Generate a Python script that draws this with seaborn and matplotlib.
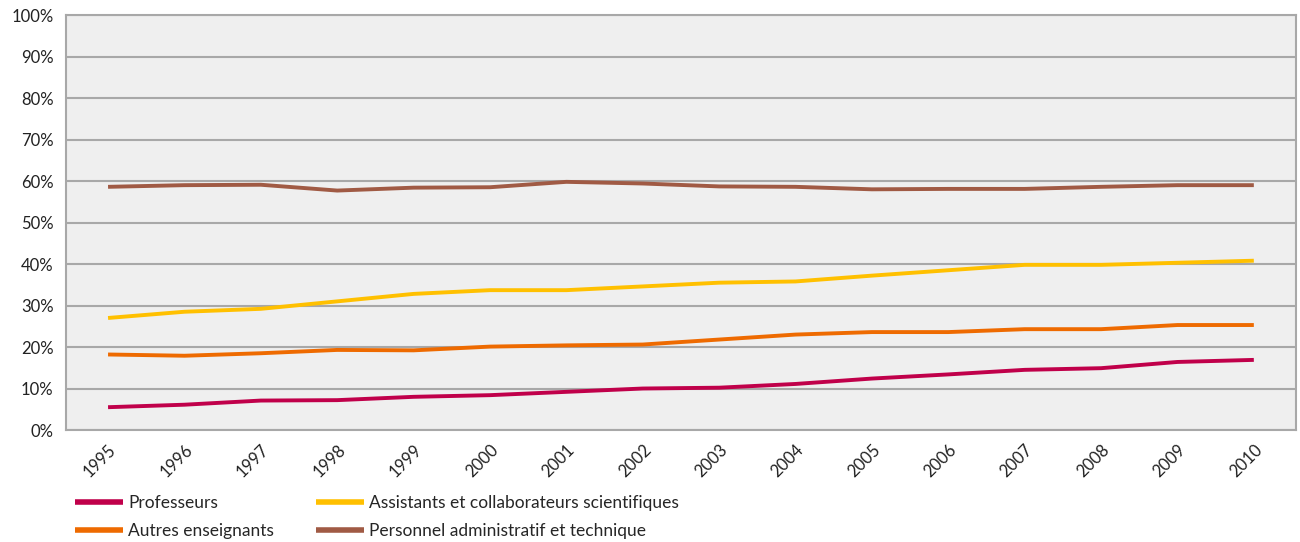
import pandas as pd
import matplotlib
matplotlib.use("Agg")
import matplotlib.pyplot as plt
import seaborn as sns
from matplotlib.ticker import PercentFormatter

# Data (share in %)
years = list(range(1995, 2011))
professeurs = [5.5, 6.1, 7.1, 7.2, 8.0, 8.4, 9.2, 10.0, 10.2, 11.1, 12.4, 13.4, 14.5, 14.9, 16.4, 16.9]
autres_enseignants = [18.2, 17.9, 18.5, 19.3, 19.2, 20.1, 20.4, 20.6, 21.8, 23.0, 23.6, 23.6, 24.3, 24.3, 25.3, 25.3]
assistants = [27.0, 28.5, 29.2, 31.0, 32.8, 33.7, 33.7, 34.6, 35.5, 35.8, 37.2, 38.5, 39.8, 39.8, 40.3, 40.8]
personnel = [58.6, 59.0, 59.1, 57.7, 58.4, 58.5, 59.8, 59.4, 58.7, 58.6, 58.0, 58.1, 58.1, 58.6, 59.0, 59.0]

series_names = [
    "Professeurs",
    "Autres enseignants",
    "Assistants et collaborateurs scientifiques",
    "Personnel administratif et technique",
]
series_values = [professeurs, autres_enseignants, assistants, personnel]
colors = ["#C0004A", "#EE6A00", "#FFC000", "#A05A44"]

rows = []
for name, vals in zip(series_names, series_values):
    for i, (yr, v) in enumerate(zip(years, vals)):
        rows.append({"pos": i, "year": yr, "value": v, "series": name})
df = pd.DataFrame(rows)

sns.set_theme(style="white")
plt.rcParams["font.family"] = ["Lato", "DejaVu Sans"]

fig = plt.figure(figsize=(13, 5.42), dpi=100)
ax = fig.add_axes([0.0508, 0.2066, 0.946, 0.7657])
ax.set_facecolor("#EFEFEF")

sns.lineplot(data=df, x="pos", y="value", hue="series", hue_order=series_names,
             palette=colors, linewidth=2.8, ax=ax, legend=False, zorder=3,
             solid_capstyle="butt")

ax.set_xlim(-0.55, len(years) - 0.45)
ax.set_ylim(0, 100)
ax.set_yticks(range(0, 101, 10))
ax.yaxis.set_major_formatter(PercentFormatter(decimals=0))
ax.set_xticks(range(len(years)))
ax.set_xticklabels([str(y) for y in years], rotation=45, ha="right",
                   rotation_mode="anchor")
ax.tick_params(axis="x", length=0, pad=8, labelsize=12, colors="#222222")
ax.tick_params(axis="y", length=5, width=1.2, color="#999999", pad=4,
               labelsize=12, labelcolor="#222222")
ax.grid(axis="y", color="#A8A8A8", linewidth=1.5, zorder=1)
ax.set_axisbelow(True)
for side in ["left", "bottom", "right", "top"]:
    ax.spines[side].set_color("#A8A8A8")
    ax.spines[side].set_linewidth(1.5)
ax.set_xlabel("")
ax.set_ylabel("")

handles = [plt.Line2D([], [], color=c, linewidth=4, solid_capstyle="butt")
           for c in colors]
fig.legend(handles, series_names, ncol=2, loc="lower left",
           bbox_to_anchor=(0.046, -0.023), frameon=False, fontsize=12.5,
           handlelength=2.75, handletextpad=0.3, columnspacing=2.4,
           labelspacing=0.7)

fig.savefig("out.png", dpi=100)
